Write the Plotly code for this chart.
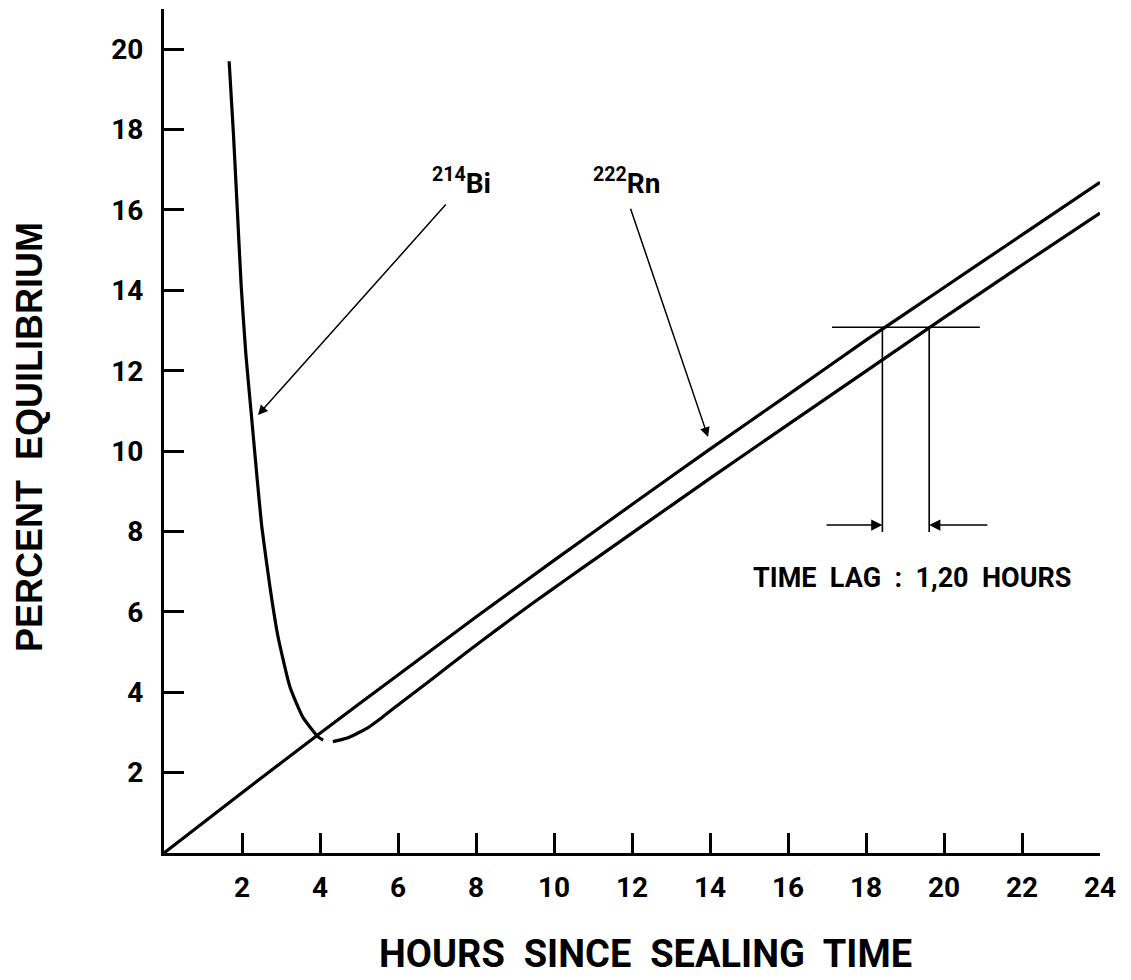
import plotly.graph_objects as go

# Radon-222 ingrowth (percent of equilibrium) against hours since sealing
rn_hours = [0, 2, 4, 6, 8, 10, 12, 14, 16, 18, 20, 22, 24]
rn_percent = [0, 1.50, 2.98, 4.43, 5.87, 7.28, 8.67, 10.05, 11.40, 12.76, 14.07, 15.38, 16.69]

# Bismuth-214: early decay branch, then ingrowth that trails radon
bi_hours_a = [1.67, 1.78, 1.88, 1.98, 2.10, 2.24, 2.38, 2.51, 2.72, 2.92, 3.23, 3.56, 3.95, 4.08]
bi_percent_a = [19.70, 17.90, 16.00, 14.10, 12.40, 10.90, 9.40, 8.10, 6.60, 5.40, 4.13, 3.38, 2.89, 2.81]
bi_hours_b = [4.33, 4.70, 5.20, 5.60, 6.05, 6.90, 7.77, 8.62, 9.46, 10.30, 11.18, 12, 14, 16, 18, 20, 22, 24]
bi_percent_b = [2.77, 2.86, 3.10, 3.38, 3.72, 4.35, 5.00, 5.62, 6.22, 6.80, 7.40, 7.96, 9.32, 10.66, 11.99, 13.32, 14.63, 15.92]

x_ticks = [2, 4, 6, 8, 10, 12, 14, 16, 18, 20, 22, 24]
y_ticks = [2, 4, 6, 8, 10, 12, 14, 16, 18, 20]

# Time-lag construction
lag_level = 13.08
lag_start = 18.42
lag_hours = 1.20
lag_end = lag_start + lag_hours

FONT = "Roboto"
INK = "black"

fig = go.Figure()

fig.add_trace(go.Scatter(
    x=rn_hours, y=rn_percent, mode="lines",
    line=dict(color=INK, width=3.2, shape="spline", smoothing=0.5),
    cliponaxis=False, hoverinfo="skip", showlegend=False))

fig.add_trace(go.Scatter(
    x=bi_hours_a + [None] + bi_hours_b,
    y=bi_percent_a + [None] + bi_percent_b,
    mode="lines", connectgaps=False,
    line=dict(color=INK, width=3.2, shape="spline", smoothing=0.5),
    cliponaxis=False, hoverinfo="skip", showlegend=False))

# horizontal reference and the two drop lines
fig.add_shape(type="line", x0=lag_start - 1.29, x1=lag_end + 1.30, y0=lag_level, y1=lag_level,
              line=dict(color=INK, width=1.6))
for xv in (lag_start, lag_end):
    fig.add_shape(type="line", x0=xv, x1=xv, y0=lag_level, y1=7.99,
                  line=dict(color=INK, width=1.6))

annotations = [
    # lag arrows
    dict(x=lag_start, y=8.16, ax=lag_start - 1.47, ay=8.16, axref="x", ayref="y",
         xref="x", yref="y", showarrow=True, arrowhead=2, arrowsize=1.4,
         arrowwidth=1.6, arrowcolor=INK, text=""),
    dict(x=lag_end, y=8.16, ax=lag_end + 1.53, ay=8.16, axref="x", ayref="y",
         xref="x", yref="y", showarrow=True, arrowhead=2, arrowsize=1.4,
         arrowwidth=1.6, arrowcolor=INK, text=""),
    dict(x=19.18, y=6.84, xref="x", yref="y", showarrow=False,
         xanchor="center", yanchor="middle",
         text="TIME  LAG  :  1,20  HOURS",
         font=dict(family=FONT, size=27, color=INK, weight="bold")),
    # curve labels with pointers
    dict(x=2.41, y=10.9, ax=7.26, ay=16.17, axref="x", ayref="y",
         xref="x", yref="y", showarrow=True, arrowhead=2, arrowsize=1.3,
         arrowwidth=1.5, arrowcolor=INK, text=""),
    dict(x=13.95, y=10.35, ax=11.95, ay=16.07, axref="x", ayref="y",
         xref="x", yref="y", showarrow=True, arrowhead=2, arrowsize=1.3,
         arrowwidth=1.5, arrowcolor=INK, text=""),
    dict(x=7.64, y=16.72, xref="x", yref="y", showarrow=False,
         xanchor="center", yanchor="middle",
         text="<sup>214</sup>Bi",
         font=dict(family=FONT, size=28, color=INK, weight="bold")),
    dict(x=11.85, y=16.72, xref="x", yref="y", showarrow=False,
         xanchor="center", yanchor="middle",
         text="<sup>222</sup>Rn",
         font=dict(family=FONT, size=28, color=INK, weight="bold")),
    # axis titles
    dict(x=645, y=954, xref="paper", yref="paper", showarrow=False,
         xanchor="center", yanchor="middle",
         text="HOURS  SINCE  SEALING  TIME",
         font=dict(family=FONT, size=38, color=INK, weight="bold")),
    dict(x=29, y=437, xref="paper", yref="paper", showarrow=False, textangle=-90,
         xanchor="center", yanchor="middle",
         text="PERCENT  EQUILIBRIUM",
         font=dict(family="Liberation Sans", size=36, color=INK, weight="bold")),
]

# place the two axis-title annotations in pixel terms
W, H = 1131, 980
ML, MR, MT, MB = 164, 31, 9, 127
pw, ph = W - ML - MR, H - MT - MB
for a in annotations:
    if a.get("xref") == "paper":
        a["x"] = (a["x"] - ML) / pw
        a["y"] = (H - MB - a["y"]) / ph

fig.update_layout(
    width=W, height=H,
    margin=dict(l=ML, r=MR, t=MT, b=MB),
    paper_bgcolor="white", plot_bgcolor="white",
    annotations=annotations,
    xaxis=dict(range=[0, 24], showgrid=False, zeroline=False,
               showline=True, linecolor=INK, linewidth=3,
               ticks="inside", ticklen=20, tickwidth=2.5, tickcolor=INK,
               tickvals=x_ticks, ticktext=[str(v) for v in x_ticks],
               ticklabelstandoff=7,
               tickfont=dict(family=FONT, size=28, color=INK, weight="bold")),
    yaxis=dict(range=[0, 21], showgrid=False, zeroline=False,
               showline=True, linecolor=INK, linewidth=3,
               ticks="inside", ticklen=20, tickwidth=2.5, tickcolor=INK,
               tickvals=y_ticks, ticktext=[str(v) for v in y_ticks],
               ticklabelstandoff=12,
               tickfont=dict(family=FONT, size=28, color=INK, weight="bold")),
)

fig.write_html("out.html")
